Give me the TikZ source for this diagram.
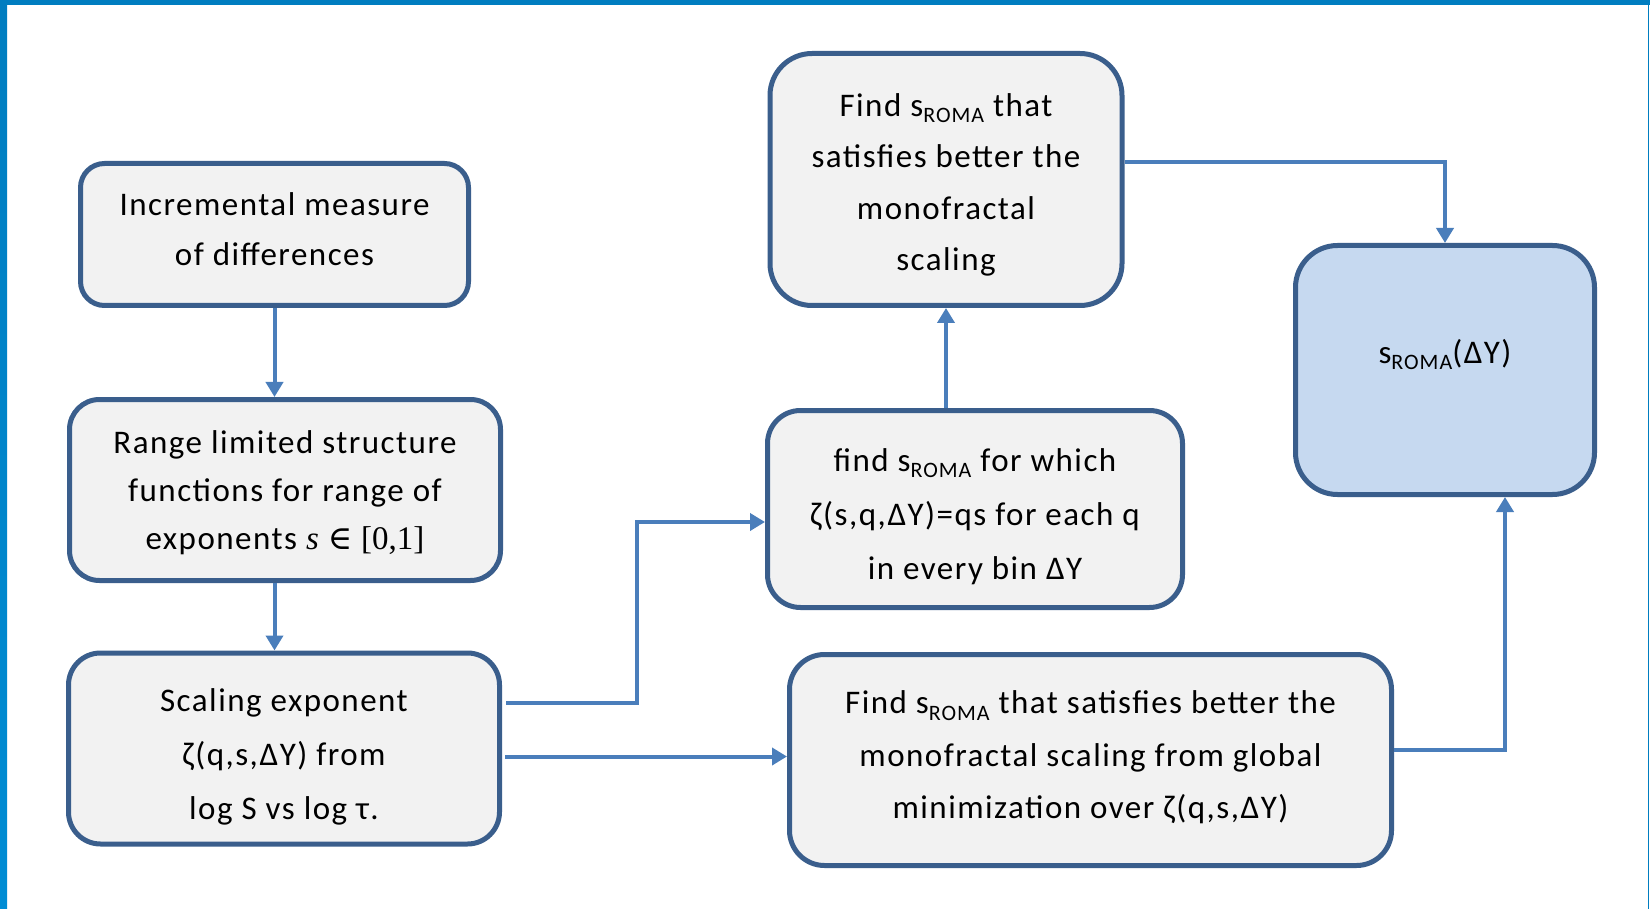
\documentclass[tikz,border=0pt]{standalone}
\usepackage[no-math]{fontspec}
\setmainfont[LetterSpace=4.5]{Carlito}
\newfontfamily\serifface{Liberation Serif}
\newfontfamily\symface{DejaVu Serif}
\usetikzlibrary{arrows.meta,calc}
\definecolor{frameblue}{RGB}{0,125,192}
\definecolor{framebluelight}{RGB}{0,140,212}
\definecolor{boxborder}{RGB}{58,94,140}
\definecolor{boxfill}{RGB}{242,242,242}
\definecolor{resfill}{RGB}{198,217,240}
\definecolor{arrowblue}{RGB}{74,126,187}
\newcommand{\sroma}{s\raisebox{-0.2em}{\fontsize{22}{22}\selectfont ROMA}}
\newcommand{\toprl}[1]{\rule{0pt}{#1pt}}
\newcommand{\botrl}[1]{\rule[-#1pt]{0pt}{0pt}}
\begin{document}
\begin{tikzpicture}[x=1pt,y=-1pt,
  flowbox/.style={draw=boxborder, line width=5pt, fill=boxfill, align=center, inner sep=0pt},
  conn/.style={draw=arrowblue, line width=4pt, -{Triangle[length=15pt,width=17pt]}}]
\fill[white] (0,0) rectangle (1650,909);
\useasboundingbox (0,0) rectangle (1650,909);
\fill[frameblue] (0,0) rectangle (1650,5);
\shade[top color=frameblue, bottom color=framebluelight] (0,0) rectangle (7,909);
\fill[frameblue] (1647.5,0) rectangle (1649.3,909);

\node[flowbox, font=\fontsize{33}{49.5}\selectfont, minimum width=388pt, minimum height=142pt, rounded corners=24pt] (b1) at (274.5,234.5)
  {\toprl{40}Incremental measure\\of differences\botrl{28}};
\node[flowbox, font=\fontsize{33}{48}\selectfont, minimum width=431pt, minimum height=181pt, rounded corners=30pt] (b2) at (285,490)
  {\toprl{40}Range limited structure\\functions for range of\\exponents {\serifface\itshape s} {\symface ∈} {\serifface [0,1]}\botrl{17}};
\node[flowbox, font=\fontsize{33}{54}\selectfont, minimum width=431pt, minimum height=191pt, rounded corners=32pt] (b3) at (284,748.5)
  {\toprl{46}Scaling exponent\\ζ(q,s,ΔY) from\\log S vs log τ.\botrl{13}};
\node[flowbox, font=\fontsize{33}{51.6}\selectfont, minimum width=352pt, minimum height=252pt, rounded corners=42pt] (b4) at (946,179.5)
  {\toprl{46}Find \sroma{} that\\satisfies better the\\monofractal\\scaling\botrl{18}};
\node[flowbox, font=\fontsize{33}{54}\selectfont, minimum width=415pt, minimum height=197pt, rounded corners=33pt] (b5) at (975,509)
  {\toprl{46}find \sroma{} for which\\ζ(s,q,ΔY)=qs for each q\\in every bin ΔY\botrl{14}};
\node[flowbox, font=\fontsize{33}{52.6}\selectfont, minimum width=602pt, minimum height=211pt, rounded corners=35pt] (b6) at (1090.5,760)
  {\toprl{46}Find \sroma{} that satisfies better the\\monofractal scaling from global\\minimization over ζ(q,s,ΔY)\botrl{34}};
\node[flowbox, font=\fontsize{33}{50}\selectfont, fill=resfill, minimum width=299pt, minimum height=249pt, rounded corners=42pt] (b7) at (1445,370)
  {\toprl{46}\sroma(ΔY)\botrl{60}};

\draw[conn] (b1.south) -- (b1.south |- b2.north);
\draw[conn] (b1.south |- b2.south) -- (b1.south |- b3.north);
\coordinate (s1) at ($(b3.east)+(4,-46)$);
\coordinate (t1) at ($(b5.west)+(0,13)$);
\coordinate (j1) at (637,0);
\draw[conn] (s1) -- (s1 -| j1) -- (j1 |- t1) -- (t1);
\coordinate (s2) at ($(b3.east)+(3,8)$);
\draw[conn] (s2) -- (s2 -| b6.west);
\draw[conn] (b4.south |- b5.north) -- (b4.south);
\draw[conn] ($(b4.east)+(0,-17)$) -| (b7.north);
\draw[conn] ($(b6.east)+(0,-10)$) -| ($(b7.south)+(60,0)$);
\end{tikzpicture}
\end{document}
